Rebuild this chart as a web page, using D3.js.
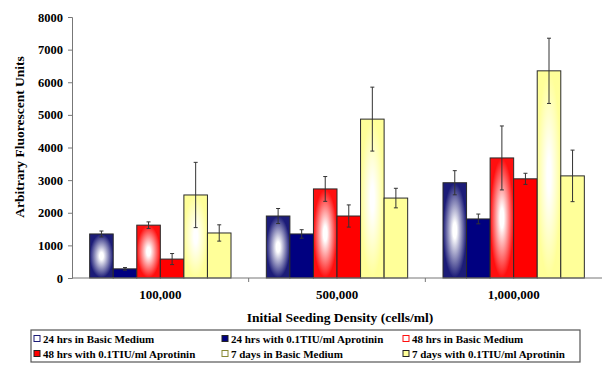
<!DOCTYPE html>
<html>
<head>
<meta charset="utf-8">
<script src="https://cdn.jsdelivr.net/npm/d3@7/dist/d3.min.js"></script>
<style>
  html, body { margin: 0; padding: 0; background: #fff; }
  svg { display: block; }
  text { font-family: "Liberation Serif", "Times New Roman", serif; font-weight: bold; fill: #000; }
</style>
</head>
<body>
<svg id="chart" width="602" height="365"></svg>
<script>
// Seeding densities along the x axis
const categories = ["100,000", "500,000", "1,000,000"];

// Treatment series, in legend order
const seriesNames = [
  "24 hrs in Basic Medium",
  "24 hrs with 0.1TIU/ml Aprotinin",
  "48 hrs in Basic Medium",
  "48 hrs with 0.1TIU/ml Aprotinin",
  "7 days in Basic Medium",
  "7 days with 0.1TIU/ml Aprotinin"
];

// Mean fluorescence per series (one value per density)
const basic24 = [1350, 1900, 2920];
const aprot24 = [280, 1350, 1810];
const basic48 = [1620, 2730, 3680];
const aprot48 = [580, 1900, 3040];
const basic7d = [2545, 4870, 6350];
const aprot7d = [1380, 2450, 3130];

// Error bar half-widths per series
const err24b = [90, 230, 370];
const err24a = [40, 130, 150];
const err48b = [100, 380, 980];
const err48a = [170, 340, 170];
const err7db = [1000, 980, 1000];
const err7da = [250, 300, 790];

const yTicks = [0, 1000, 2000, 3000, 4000, 5000, 6000, 7000, 8000];

const seriesValues = [basic24, aprot24, basic48, aprot48, basic7d, aprot7d];
const seriesErrors = [err24b, err24a, err48b, err48a, err7db, err7da];

// Fill styles: gradient ("from centre") fills for the basic-medium series
const styles = [
  { color: "#1c1c78", grad: true },
  { color: "#000080", grad: false },
  { color: "#ff0f0f", grad: true },
  { color: "#ff0000", grad: false },
  { color: "#ffff99", grad: true },
  { color: "#ffff99", grad: false }
];

const svg = d3.select("#chart");
const x0 = 72, x1 = 602, y0 = 278, y1 = 17;

const x = d3.scaleBand().domain(categories).range([x0, x1]).paddingInner(0.2).paddingOuter(0.1);
const xOuter = d3.scaleBand().domain(categories).range([x0, x1]);
const xs = d3.scaleBand().domain(d3.range(seriesNames.length)).range([0, x.bandwidth()]);
const y = d3.scaleLinear().domain([0, 8000]).range([y0, y1]);

const defs = svg.append("defs");
styles.forEach((s, i) => {
  if (!s.grad) return;
  const g = defs.append("radialGradient")
    .attr("id", "g" + i)
    .attr("cx", "50%").attr("cy", "50%").attr("r", "55%");
  g.append("stop").attr("offset", "0%").attr("stop-color", "#ffffff");
  g.append("stop").attr("offset", "15%").attr("stop-color", "#ffffff");
  g.append("stop").attr("offset", "90%").attr("stop-color", s.color);
});

// Bars
const groups = svg.append("g").selectAll("g")
  .data(categories)
  .join("g")
  .attr("transform", d => `translate(${x(d)},0)`);

groups.each(function(cat, ci) {
  const g = d3.select(this);
  seriesValues.forEach((vals, si) => {
    const v = vals[ci];
    g.append("rect")
      .attr("x", xs(si))
      .attr("y", y(v))
      .attr("width", xs.bandwidth())
      .attr("height", y(0) - y(v))
      .attr("fill", styles[si].grad ? `url(#g${si})` : styles[si].color)
      .attr("stroke", "#2a2a2a")
      .attr("stroke-width", 1);
  });
  // Error bars
  seriesValues.forEach((vals, si) => {
    const v = vals[ci], e = seriesErrors[si][ci];
    const cx = xs(si) + xs.bandwidth() / 2;
    g.append("line")
      .attr("x1", cx).attr("x2", cx)
      .attr("y1", y(v + e)).attr("y2", y(v - e))
      .attr("stroke", "#333").attr("stroke-width", 1);
    [v + e, v - e].forEach(t => {
      g.append("line")
        .attr("x1", cx - 2).attr("x2", cx + 2)
        .attr("y1", y(t)).attr("y2", y(t))
        .attr("stroke", "#333").attr("stroke-width", 1);
    });
  });
});

// Y axis
const yAxis = d3.axisLeft(y).tickValues(yTicks).tickSize(4).tickPadding(5).tickFormat(d3.format("d"));
const gy = svg.append("g").attr("transform", `translate(${x0},0)`).call(yAxis);
gy.select(".domain").attr("stroke", "#777");
gy.selectAll(".tick line").attr("stroke", "#777");
gy.selectAll("text").style("font-size", "12.5px").style("font-family", "Liberation Serif").style("font-weight", "bold");

// X axis: category dividers as ticks
const gx = svg.append("g").attr("transform", `translate(0,${y0})`);
gx.append("line").attr("x1", x0).attr("x2", x1).attr("y1", 0).attr("y2", 0).attr("stroke", "#777");
categories.slice(1).forEach(c => {
  gx.append("line").attr("x1", xOuter(c)).attr("x2", xOuter(c)).attr("y1", 0).attr("y2", 4).attr("stroke", "#777");
});
gx.selectAll("text.cat")
  .data(categories)
  .join("text")
  .attr("class", "cat")
  .attr("x", d => xOuter(d) + xOuter.bandwidth() / 2)
  .attr("y", 21)
  .attr("text-anchor", "middle")
  .style("font-size", "13px")
  .text(d => d);

// Axis titles
svg.append("text")
  .attr("transform", `translate(24,137) rotate(-90)`)
  .attr("text-anchor", "middle")
  .style("font-size", "13.5px")
  .text("Arbitrary Fluorescent Units");

svg.append("text")
  .attr("x", (x0 + x1) / 2 + 3)
  .attr("y", 322)
  .attr("text-anchor", "middle")
  .style("font-size", "13.5px")
  .text("Initial Seeding Density (cells/ml)");

// Legend
const legend = svg.append("g");
legend.append("rect")
  .attr("x", 31).attr("y", 330).attr("width", 549).attr("height", 32)
  .attr("fill", "#fff").attr("stroke", "#555").attr("stroke-width", 1.2);
const colX = [34, 222, 403];
seriesNames.forEach((name, i) => {
  const col = i % 3, row = Math.floor(i / 3);
  const lx = colX[col], ly = 339 + row * 15;
  const sw = legend.append("rect")
    .attr("x", lx).attr("y", ly - 3.5).attr("width", 6).attr("height", 6)
    .attr("stroke", "#222").attr("stroke-width", 1);
  if (styles[i].grad) {
    sw.attr("fill", "#fff").attr("stroke", styles[i].color === "#ffff99" ? "#888833" : styles[i].color);
  } else {
    sw.attr("fill", styles[i].color);
  }
  legend.append("text")
    .attr("x", lx + 9).attr("y", ly + 4)
    .style("font-size", "11px")
    .text(name);
});
</script>
</body>
</html>
